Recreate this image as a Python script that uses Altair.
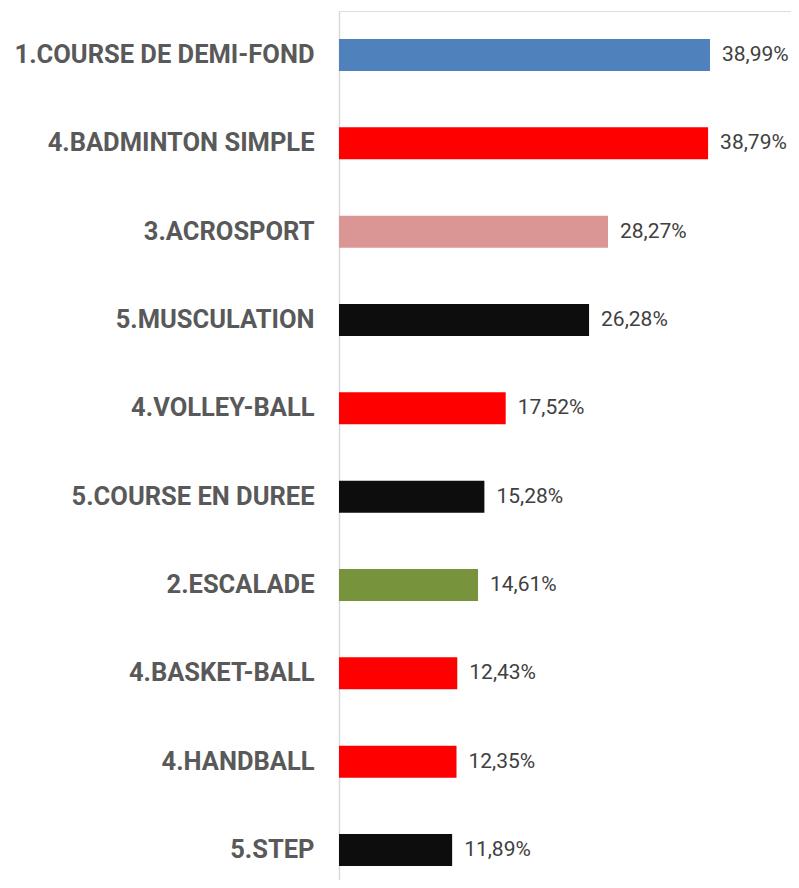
import altair as alt
import pandas as pd

categories = [
    "1.COURSE DE DEMI-FOND",
    "4.BADMINTON SIMPLE",
    "3.ACROSPORT",
    "5.MUSCULATION",
    "4.VOLLEY-BALL",
    "5.COURSE EN DUREE",
    "2.ESCALADE",
    "4.BASKET-BALL",
    "4.HANDBALL",
    "5.STEP",
]
values = [38.99, 38.79, 28.27, 26.28, 17.52, 15.28, 14.61, 12.43, 12.35, 11.89]
colors = ["#4F81BD", "#FF0000", "#D99694", "#0D0D0D", "#FF0000",
          "#0D0D0D", "#77933C", "#FF0000", "#FF0000", "#0D0D0D"]

df = pd.DataFrame({
    "cat": categories,
    "val": values,
    "color": colors,
    "label": [f"{v:.2f}".replace(".", ",") + "%" for v in values],
})

W = 452
H = 869
xmax = W / 9.515

y_enc = alt.Y(
    "cat:N",
    sort=categories,
    scale=alt.Scale(paddingInner=0.6377, paddingOuter=0.238, align=0.667),
    axis=alt.Axis(
        title=None, ticks=False, grid=False,
        domainColor="#D9D9D9", domainWidth=1.5,
        labelFont="Roboto", labelFontWeight="bold", labelFontSize=25.5,
        labelColor="#595959", labelPadding=25, labelLimit=400,
    ),
)
x_enc = alt.X("val:Q", scale=alt.Scale(domain=[0, xmax], nice=False, zero=True), axis=None)

bars = alt.Chart(df).mark_bar().encode(
    x=x_enc, y=y_enc, color=alt.Color("color:N", scale=None)
)
text = alt.Chart(df).mark_text(
    align="left", baseline="middle", dx=12, font="Roboto", fontSize=21, color="#404040"
).encode(x=x_enc, y=y_enc, text="label:N")

chart = (bars + text).properties(
    width=W, height=H,
    autosize=alt.AutoSizeParams(type="none"),
    padding={"left": 331, "top": 3, "right": 0, "bottom": 0},
).configure_view(stroke=None).configure(background="white")

chart.save("out.html", embed_options={"renderer": "svg", "actions": False})
